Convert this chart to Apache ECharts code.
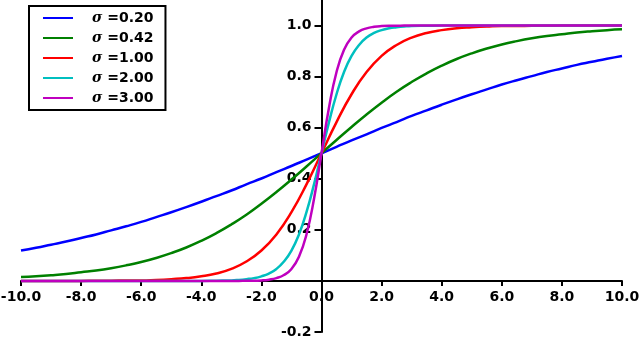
<!DOCTYPE html>
<html>
<head>
<meta charset="utf-8">
<script src="https://cdn.jsdelivr.net/npm/echarts@6/dist/echarts.min.js"></script>
<style>
  html, body { margin: 0; padding: 0; background: #fff; }
  #chart { width: 640px; height: 337px; }
</style>
</head>
<body>
<div id="chart"></div>
<script>
// x positions for the gentle curves
var xsWide = [-10, -9.5, -9, -8.5, -8, -7.5, -7, -6.5, -6, -5.5, -5, -4.5, -4, -3.5, -3, -2.5, -2, -1.5, -1, -0.5,
    0, 0.5, 1, 1.5, 2, 2.5, 3, 3.5, 4, 4.5, 5, 5.5, 6, 6.5, 7, 7.5, 8, 8.5, 9, 9.5, 10];
// x positions for the steep curves (denser near 0)
var xsNarrow = [-10, -8, -6, -5, -4, -3.5, -3, -2.75, -2.5, -2.25, -2, -1.75, -1.5, -1.25, -1, -0.75, -0.5, -0.25,
    0, 0.25, 0.5, 0.75, 1, 1.25, 1.5, 1.75, 2, 2.25, 2.5, 2.75, 3, 3.5, 4, 5, 6, 8, 10];

var sigma020 = [0.119, 0.130, 0.142, 0.154, 0.168, 0.182, 0.198, 0.214, 0.231, 0.250, 0.269, 0.289, 0.310, 0.332, 0.354, 0.378, 0.401, 0.426, 0.450, 0.475,
    0.500, 0.525, 0.550, 0.574, 0.599, 0.622, 0.646, 0.668, 0.690, 0.711, 0.731, 0.750, 0.769, 0.786, 0.802, 0.818, 0.832, 0.846, 0.858, 0.870, 0.881];
var sigma042 = [0.015, 0.018, 0.022, 0.027, 0.034, 0.041, 0.050, 0.061, 0.074, 0.090, 0.109, 0.131, 0.157, 0.187, 0.221, 0.259, 0.302, 0.348, 0.397, 0.448,
    0.500, 0.552, 0.603, 0.652, 0.698, 0.741, 0.779, 0.813, 0.843, 0.869, 0.891, 0.910, 0.926, 0.939, 0.950, 0.959, 0.966, 0.973, 0.978, 0.982, 0.985];
var sigma100 = [0.000, 0.000, 0.000, 0.000, 0.000, 0.001, 0.001, 0.002, 0.002, 0.004, 0.007, 0.011, 0.018, 0.029, 0.047, 0.076, 0.119, 0.182, 0.269, 0.378,
    0.500, 0.622, 0.731, 0.818, 0.881, 0.924, 0.953, 0.971, 0.982, 0.989, 0.993, 0.996, 0.998, 0.998, 0.999, 0.999, 1.000, 1.000, 1.000, 1.000, 1.000];
var sigma200 = [0.000, 0.000, 0.000, 0.000, 0.000, 0.001, 0.002, 0.004, 0.007, 0.011, 0.018, 0.029, 0.047, 0.076, 0.119, 0.182, 0.269, 0.378,
    0.500, 0.622, 0.731, 0.818, 0.881, 0.924, 0.953, 0.971, 0.982, 0.989, 0.993, 0.996, 0.998, 0.999, 1.000, 1.000, 1.000, 1.000, 1.000];
var sigma300 = [0.000, 0.000, 0.000, 0.000, 0.000, 0.000, 0.000, 0.000, 0.001, 0.001, 0.002, 0.005, 0.011, 0.023, 0.047, 0.095, 0.182, 0.321,
    0.500, 0.679, 0.818, 0.905, 0.953, 0.977, 0.989, 0.995, 0.998, 0.999, 0.999, 1.000, 1.000, 1.000, 1.000, 1.000, 1.000, 1.000, 1.000];

var names = ['0.20', '0.42', '1.00', '2.00', '3.00'];
var colors = ['#0000ff', '#008000', '#ff0000', '#00bfbf', '#bf00bf'];
var xTicks = [-10, -8, -6, -4, -2, 0, 2, 4, 6, 8, 10];
var yTicks = [-0.2, 0, 0.2, 0.4, 0.6, 0.8, 1.0];
var yLabels = [-0.2, 0.2, 0.4, 0.6, 0.8, 1.0];

function pairs(xs, ys) {
    return xs.map(function(x, i) { return [x, ys[i]]; });
}

var seriesData = [
    pairs(xsWide, sigma020),
    pairs(xsWide, sigma042),
    pairs(xsWide, sigma100),
    pairs(xsNarrow, sigma200),
    pairs(xsNarrow, sigma300)
];

var W = 640, H = 337;
var grid = { left: 21, right: 18, top: 0, bottom: 5 };
var xMin = -10, xMax = 10, yMin = -0.2, yMax = 1.1;
// move the axes so they cross at the origin (labels follow the line)
var xAxisOffset = -(0 - yMin) / (yMax - yMin) * (H - grid.top - grid.bottom);
var yAxisOffset = -(0 - xMin) / (xMax - xMin) * (W - grid.left - grid.right);

var chart = echarts.init(document.getElementById('chart'), null, { renderer: 'canvas' });

var font = 'DejaVu Sans';

var option = {
    animation: false,
    backgroundColor: '#fff',
    grid: { left: grid.left, right: grid.right, top: grid.top, bottom: grid.bottom, containLabel: false, outerBoundsMode: 'none' },
    legend: {
        orient: 'vertical',
        left: 29,
        top: 6,
        padding: [5, 12, 5, 13],
        itemWidth: 30,
        itemHeight: 14,
        itemGap: 6,
        backgroundColor: '#fff',
        borderColor: '#000',
        borderWidth: 2,
        borderRadius: 0,
        itemStyle: { opacity: 0 },
        data: names.map(function(n) { return 'σ=' + n; }),
        formatter: function(name) {
            return '{s|σ}{e| =' + name.slice(2) + '}';
        },
        textStyle: {
            rich: {
                s: { fontFamily: 'DejaVu Serif', fontStyle: 'italic', fontWeight: 'bold', fontSize: 14, color: '#000', padding: [0, 0, 0, 14] },
                e: { fontFamily: font, fontWeight: 'bold', fontSize: 14, color: '#000' }
            }
        }
    },
    xAxis: {
        type: 'value',
        min: xMin,
        max: xMax,
        interval: 2,
        position: 'bottom',
        offset: xAxisOffset,
        z: 3,
        axisLine: { onZero: false, lineStyle: { color: '#000', width: 2 } },
        axisTick: { length: 5, lineStyle: { color: '#000', width: 2 }, customValues: xTicks },
        axisLabel: {
            margin: 9,
            fontFamily: font,
            fontWeight: 'bold',
            fontSize: 14,
            color: '#000',
            customValues: xTicks,
            formatter: function(v) { return v.toFixed(1); }
        },
        splitLine: { show: false }
    },
    yAxis: {
        type: 'value',
        min: yMin,
        max: yMax,
        interval: 0.2,
        position: 'left',
        offset: yAxisOffset,
        axisLine: { onZero: false, lineStyle: { color: '#000', width: 2 } },
        axisTick: { length: 7, lineStyle: { color: '#000', width: 2 }, customValues: yTicks },
        axisLabel: {
            margin: 10,
            fontFamily: font,
            fontWeight: 'bold',
            fontSize: 14,
            color: '#000',
            customValues: yLabels,
            formatter: function(v) {
                if (Math.abs(v) < 1e-9 || v > 1.05) return '';
                return v.toFixed(1);
            }
        },
        splitLine: { show: false }
    },
    series: seriesData.map(function(d, i) {
        return {
            name: 'σ=' + names[i],
            type: 'line',
            data: d,
            symbol: 'none',
            smooth: 0.5,
            lineStyle: { color: colors[i], width: 2.5 },
            itemStyle: { color: colors[i] }
        };
    })
};

chart.setOption(option);
</script>
</body>
</html>
